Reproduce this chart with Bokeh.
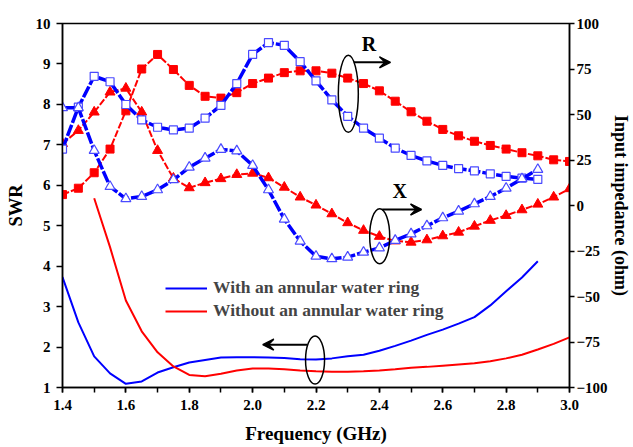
from bokeh.plotting import figure
from bokeh.models import (Range1d, LinearAxis, SingleIntervalTicker, FixedTicker,
                          PrintfTickFormatter, Arrow, VeeHead, Legend, LegendItem,
                          Label)
from bokeh.embed import file_html
from bokeh.resources import INLINE

# ---- data -------------------------------------------------------------
# frequency grid (GHz)
freq_with = [1.40, 1.45, 1.50, 1.55, 1.60, 1.65, 1.70, 1.75, 1.80, 1.85, 1.90,
             1.95, 2.00, 2.05, 2.10, 2.15, 2.20, 2.25, 2.30, 2.35, 2.40, 2.45,
             2.50, 2.55, 2.60, 2.65, 2.70, 2.75, 2.80, 2.85, 2.90]
freq_without = [1.40, 1.45, 1.50, 1.55, 1.60, 1.65, 1.70, 1.75, 1.80, 1.85, 1.90,
                1.95, 2.00, 2.05, 2.10, 2.15, 2.20, 2.25, 2.30, 2.35, 2.40, 2.45,
                2.50, 2.55, 2.60, 2.65, 2.70, 2.75, 2.80, 2.85, 2.90, 2.95, 3.00]
freq_swr_without = freq_without[2:]

# SWR (left axis)
swr_with = [3.73, 2.61, 1.77, 1.35, 1.09, 1.15, 1.37, 1.50, 1.62, 1.68, 1.74,
            1.75, 1.75, 1.74, 1.73, 1.70, 1.69, 1.72, 1.77, 1.81, 1.91, 2.03,
            2.16, 2.30, 2.43, 2.58, 2.74, 3.03, 3.38, 3.72, 4.12]
swr_without = [5.68, 4.47, 3.15, 2.39, 1.87, 1.52, 1.31, 1.28, 1.34, 1.42, 1.47,
               1.47, 1.45, 1.42, 1.40, 1.39, 1.39, 1.40, 1.42, 1.45, 1.49, 1.51,
               1.54, 1.57, 1.60, 1.65, 1.72, 1.81, 1.94, 2.08, 2.24]

# input impedance (right axis, ohm)
r_with = [31, 54, 71, 68, 55.5, 47, 43, 41.5, 42.5, 48, 55,
          67, 83, 89.5, 88, 79, 68.5, 58, 49, 42.5, 37, 31.5,
          27.5, 24.5, 22, 20.3, 19, 17.4, 16, 15, 14.3]
x_with = [53.7, 53.7, 30.2, 10.4, 3.7, 4.9, 8.6, 14.1, 21, 26, 30.8,
          30, 22, 8.6, -7.5, -19.6, -27.9, -29.3, -28.4, -25.7, -23.3, -19.2,
          -15.6, -11.2, -6.8, -3.1, 0.9, 4.9, 9.5, 14.7, 19.8]
r_without = [6, 9.5, 18, 31, 52, 75, 83, 74.7, 66, 60, 59,
             62, 67, 70, 73, 74, 74, 72.7, 70, 67, 63, 57.3,
             51.5, 46.3, 41.8, 38.3, 35.3, 33, 31, 29, 27.3, 25.1, 24.2]
x_without = [34, 41.2, 51.3, 62.3, 64.4, 51.3, 30.2, 15, 9.7, 12.5, 14.7,
             17, 17.7, 15.2, 10, 4.6, 0.2, -4.6, -9.5, -13.7, -17, -19.5,
             -20.2, -18.9, -16.7, -14.7, -11.4, -8.2, -5.5, -2.4, 0.7, 4.6, 9.2]

series_labels = ["With an annular water ring", "Without an annular water ring"]

BLUE = "#0000ff"
RED = "#ff0000"
MARKER_BLUE = "#4a4aff"
FONT = "Liberation Serif"

# ---- figure -----------------------------------------------------------
p = figure(width=633, height=447, output_backend="svg", toolbar_location=None,
           x_range=Range1d(1.4, 3.0), y_range=Range1d(1, 10),
           min_border_left=62, min_border_right=64, min_border_top=23,
           min_border_bottom=60, background_fill_color="white",
           border_fill_color="white")
p.extra_y_ranges = {"imp": Range1d(-100, 100)}
p.xgrid.visible = False
p.ygrid.visible = False
p.outline_line_color = "black"
p.outline_line_width = 1.5


def style_axis(ax):
    ax.axis_line_color = "black"
    ax.axis_line_width = 1.5
    ax.major_tick_line_width = 1.5
    ax.minor_tick_line_width = 1.5
    ax.major_tick_in = 0
    ax.major_tick_out = 6
    ax.minor_tick_in = 0
    ax.minor_tick_out = 0
    ax.major_label_text_font = FONT
    ax.major_label_text_font_style = "bold"
    ax.major_label_text_font_size = "15px"
    ax.major_label_text_color = "black"
    ax.axis_label_text_font = FONT
    ax.axis_label_text_font_style = "bold"
    ax.axis_label_text_font_size = "18px"
    ax.axis_label_text_color = "black"


xax = p.xaxis[0]
xax.ticker = SingleIntervalTicker(interval=0.2, num_minor_ticks=2)
xax.formatter = PrintfTickFormatter(format="%.1f")
xax.axis_label = "Frequency (GHz)"
style_axis(xax)
xax.minor_tick_out = 5
xax.major_tick_out = 5
xax.axis_label_text_font_size = "19px"
xax.major_label_standoff = 7
xax.axis_label_standoff = 10

yax = p.yaxis[0]
yax.ticker = SingleIntervalTicker(interval=1, num_minor_ticks=0)
yax.axis_label = "SWR"
style_axis(yax)
yax.axis_label_text_font_size = "18.5px"
yax.major_label_standoff = 6
yax.axis_label_standoff = 7

# right-hand impedance axis (ticks and numbers)
rax = LinearAxis(y_range_name="imp",
                 ticker=SingleIntervalTicker(interval=25, num_minor_ticks=0))
style_axis(rax)
rax.major_tick_out = 5
rax.major_label_standoff = 2
p.add_layout(rax, "right")

# its title sits on a tick-less companion axis stacked just outside it
rtitle = LinearAxis(y_range_name="imp", ticker=FixedTicker(ticks=[]),
                    axis_label="Input impedance (ohm)")
style_axis(rtitle)
rtitle.axis_line_color = None
rtitle.major_tick_out = 0
rtitle.major_label_standoff = 0
rtitle.axis_label_standoff = 0
p.add_layout(rtitle, "right")

# ---- impedance curves (right axis) -------------------------------------
p.line(freq_without, r_without, y_range_name="imp", color=RED, line_width=2,
       line_dash="7 2")
p.scatter(freq_without, r_without, y_range_name="imp", marker="square", size=8,
          fill_color=RED, line_color=RED)
p.line(freq_without, x_without, y_range_name="imp", color=RED, line_width=2,
       line_dash="7 2")
p.scatter(freq_without, x_without, y_range_name="imp", marker="triangle", size=10,
          fill_color=RED, line_color=RED)

p.line(freq_with, r_with, y_range_name="imp", color=BLUE, line_width=3.5,
       line_dash="12 2")
p.scatter(freq_with, r_with, y_range_name="imp", marker="square", size=8,
          fill_color="white", line_color=MARKER_BLUE, line_width=1.2)
p.line(freq_with, x_with, y_range_name="imp", color=BLUE, line_width=3.5,
       line_dash="12 2")
p.scatter(freq_with, x_with, y_range_name="imp", marker="triangle", size=10,
          fill_color="white", line_color=MARKER_BLUE, line_width=1.2)

# ---- SWR curves (left axis) --------------------------------------------
swr_w = p.line(freq_with, swr_with, color=BLUE, line_width=2)
swr_wo = p.line(freq_swr_without, swr_without, color=RED, line_width=2)

legend = Legend(items=[LegendItem(label=series_labels[0], renderers=[swr_w]),
                       LegendItem(label=series_labels[1], renderers=[swr_wo])],
                location=(103, 66), border_line_color=None,
                background_fill_alpha=0, label_text_font=FONT,
                label_text_font_style="bold", label_text_font_size="17.5px",
                glyph_width=42, glyph_height=20, label_height=20, spacing=2,
                padding=0, margin=0, label_standoff=6)
p.add_layout(legend)

# ---- group markers: ellipses with arrows pointing to the relevant axis --
p.ellipse(x=[2.302, 2.401, 2.197], y=[8.26, 4.74, 1.68],
          width=[20, 20, 19], height=[77, 55, 48],
          width_units="screen", height_units="screen",
          fill_color=None, line_color="black", line_width=1.5)

head = dict(size=11, fill_color="black", line_color="black", line_width=1.5)
p.add_layout(Arrow(end=VeeHead(**head), x_start=2.319, y_start=9.04,
                   x_end=2.435, y_end=9.04, line_width=2))
p.add_layout(Arrow(end=VeeHead(**head), x_start=2.409, y_start=5.40,
                   x_end=2.533, y_end=5.40, line_width=2))
p.add_layout(Arrow(end=VeeHead(**head), x_start=2.172, y_start=2.06,
                   x_end=2.032, y_end=2.06, line_width=2))

for txt, fx, fy in (("R", 2.367, 9.49), ("X", 2.464, 5.85)):
    p.add_layout(Label(x=fx, y=fy, text=txt, text_align="center",
                       text_baseline="middle", text_font=FONT,
                       text_font_style="bold", text_font_size="20px",
                       text_color="black"))

open("out.html", "w").write(file_html(p, INLINE))
